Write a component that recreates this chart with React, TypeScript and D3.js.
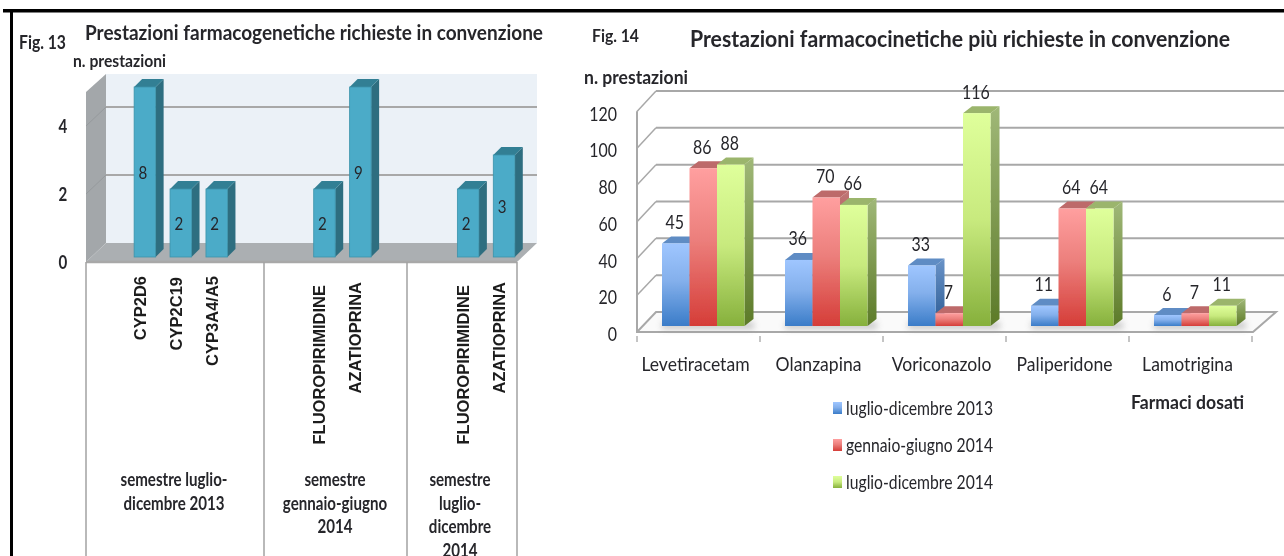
import React from "react";
import * as d3 from "d3";

// Fig. 13 data
const geneSlots = ["a0","CYP2D6","CYP2C19","CYP3A4/A5","a4","b0","FLUOROPIRIMIDINE b","AZATIOPRINA b","b3","c0","FLUOROPIRIMIDINE c","AZATIOPRINA c"];
const geneLabels = ["CYP2D6","CYP2C19","CYP3A4/A5","FLUOROPIRIMIDINE","AZATIOPRINA","FLUOROPIRIMIDINE","AZATIOPRINA"];
const geneKeys = ["CYP2D6","CYP2C19","CYP3A4/A5","FLUOROPIRIMIDINE b","AZATIOPRINA b","FLUOROPIRIMIDINE c","AZATIOPRINA c"];
const geneValues = [8,2,2,2,9,2,3];
const geneTicks = [0,2,4];
const geneGridTicks = [2,4];
const semesterSizes = [5,4,3];
const semesterLines = [
  ["semestre luglio-","dicembre 2013"],
  ["semestre","gennaio-giugno","2014"],
  ["semestre","luglio-","dicembre","2014"],
];

// Fig. 14 data
const drugs = ["Levetiracetam","Olanzapina","Voriconazolo","Paliperidone","Lamotrigina"];
const periods = ["luglio-dicembre 2013","gennaio-giugno 2014","luglio-dicembre 2014"];
const period2013b = [45,36,33,11,6];
const period2014a = [86,70,7,64,7];
const period2014b = [88,66,116,64,11];
const kineticTicks = [0,20,40,60,80,100,120];

const seriesValues = [period2013b, period2014a, period2014b];
const gradIds = ["gBlue","gRed","gGreen"];
const sideIds = ["sBlue","sRed","sGreen"];
const topColors = ["#5f8cc4","#bd6a6a","#9bb56c"];

const SANS = "Lato, 'Open Sans', sans-serif";
const GRID = "#a8a8a8";
const TEXT = "#26262b";

function Txt({x,y,size=16,bold=false,anchor="middle",len,sx=0.84,fill=TEXT,font=SANS,children}:any){
  const extra = len ? {textLength:len/sx,lengthAdjust:"spacingAndGlyphs"} : {};
  return <text x={0} y={0} transform={`translate(${x},${y}) scale(${sx},1)`}
    fontFamily={font} fontSize={size} fontWeight={bold?700:400} textAnchor={anchor} dominantBaseline="central" fill={fill} {...extra}>{children}</text>;
}

function Fig13(){
  const x = d3.scaleBand<string>().domain(geneSlots).range([86,517]);
  const yBar = d3.scaleLinear().domain([0,5]).range([257,87]).clamp(true);
  const yWall = d3.scaleLinear().domain([0,5]).range([243,73]);
  const ySide = d3.scaleLinear().domain([0,5]).range([262,92]);
  const dx = 8, dy = 8, w = 21.5;
  let cum = 0;
  const groups = semesterSizes.map(n => { const s = cum; cum += n; return [x.range()[0]+s*x.step(), x.range()[0]+cum*x.step()]; });
  const dividers = [groups[0][0], 264, 407, groups[2][1]];
  const labelTops = [276,277,276,285,282,285,282];
  const semCenters = [174,335,460];
  return <g>
    <Txt x={19} y={43} size={18} bold anchor="start" len={47}>Fig. 13</Txt>
    <Txt x={85} y={32} size={20} bold anchor="start" len={458}>Prestazioni farmacogenetiche richieste in convenzione</Txt>
    <Txt x={73} y={61} size={17} bold anchor="start" len={93}>n. prestazioni</Txt>
    <rect x={106} y={74} width={431} height={169} fill="#ebf1f7"/>
    <polygon points={`86,92 106,74 106,243 86,262`} fill="#a3a7aa"/>
    <polygon points={`86,262 106,243 537,243 517,262`} fill="#abafb2"/>
    {geneGridTicks.map(t=> <g key={t}>
      <line x1={106} x2={537} y1={yWall(t)} y2={yWall(t)} stroke={GRID} strokeWidth={2}/>
      <line x1={86} x2={106} y1={ySide(t)} y2={yWall(t)} stroke="#969a9d" strokeWidth={1}/>
    </g>)}
    {geneTicks.map(t=> <Txt key={t} x={63} y={ySide(t)+1} size={18} bold>{t}</Txt>)}
    {geneKeys.map((k,i)=>{
      const xl = x(k)! + x.bandwidth()/2 + 5 - w/2;
      const top = yBar(geneValues[i]), bot = yBar(0);
      return <g key={k}>
        <polygon points={`${xl+w},${top} ${xl+w+dx},${top-dy} ${xl+w+dx},${bot-dy} ${xl+w},${bot}`} fill="#2f6e80"/>
        <polygon points={`${xl},${top} ${xl+dx},${top-dy} ${xl+w+dx},${top-dy} ${xl+w},${top}`} fill="#327f94"/>
        <rect x={xl} y={top} width={w} height={bot-top} fill="#4babc8" stroke="#3a93ab" strokeWidth={0.8}/>
        <Txt x={xl+w/2-2} y={(top+bot)/2+1} size={18}>{geneValues[i]}</Txt>
      </g>;
    })}
    <line x1={86} x2={517} y1={262} y2={262} stroke={GRID} strokeWidth={2.5}/>
    {dividers.map((d,i)=> <line key={i} x1={d} x2={d} y1={262} y2={556} stroke="#a2a2a2" strokeWidth={1.5}/>)}
    {geneKeys.map((k,i)=>
      <g key={k} transform={`translate(${x(k)!+x.bandwidth()/2},${labelTops[i]}) rotate(-90)`}>
        <text textAnchor="end" dominantBaseline="central" fontSize={16.5} fontWeight={700} fontFamily="'Liberation Sans', sans-serif" fill="#1c1c1c">{geneLabels[i]}</text>
      </g>)}
    {semesterLines.map((lines,g)=> lines.map((l,j)=>
      <Txt key={l+g} x={semCenters[g]} y={480+j*23.4} size={18} bold>{l}</Txt>))}
  </g>;
}

function Fig14(){
  const x0 = d3.scaleBand<string>().domain(drugs).range([637,1252]);
  const x1 = d3.scaleBand<number>().domain([0,1,2]).range([25,107.5]);
  const yBar = d3.scaleLinear().domain([0,120]).range([326,105.8]);
  const yWall = d3.scaleLinear().domain([0,120]).range([312,91]);
  const ySide = d3.scaleLinear().domain([0,120]).range([332,111.5]);
  const dx = 9, dy = 7;
  return <g>
    <Txt x={592} y={36} size={17} bold anchor="start" len={47}>Fig. 14</Txt>
    <Txt x={690} y={38} size={23} bold anchor="start" len={540}>Prestazioni farmacocinetiche più richieste in convenzione</Txt>
    <Txt x={584} y={77} size={19} bold anchor="start" len={104}>n. prestazioni</Txt>
    {kineticTicks.filter(t=>t>0).map(t=> <g key={t}>
      <line x1={656} x2={1284} y1={yWall(t)} y2={yWall(t)} stroke={GRID} strokeWidth={2}/>
      <line x1={637} x2={656} y1={ySide(t)} y2={yWall(t)} stroke={GRID} strokeWidth={1.5}/>
    </g>)}
    <polyline points={`637,111.5 637,332 1253,332 1276,312 656,312 637,332`} fill="#fafafa" stroke={GRID} strokeWidth={2}/>
    <line x1={637} x2={637} y1={111.5} y2={332} stroke={GRID} strokeWidth={2}/>
    {kineticTicks.map(t=> <Txt key={t} x={617} y={ySide(t)+2} size={19} anchor="end">{t}</Txt>)}
    {x0.domain().concat(["end"]).map((d,i)=>{ const xx = 637+i*x0.step(); return <line key={d} x1={xx} x2={xx} y1={336} y2={342} stroke="#8a8a8a" strokeWidth={1}/>; })}
    {drugs.map((d)=>(
      <rect key={d} x={x0(d)!+25} y={322} width={92} height={7} fill="#8a8a8a" opacity={0.45} filter="url(#soft)"/>
    ))}
    {drugs.map((d,di)=> seriesValues.map((vals,si)=>{
      const xl = x0(d)! + x1(si)!, w = x1.bandwidth();
      const top = yBar(vals[di]), bot = yBar(0);
      return <g key={d+si}>
        <polygon points={`${xl+w},${top} ${xl+w+dx},${top-dy} ${xl+w+dx},${bot-dy} ${xl+w},${bot}`} fill={`url(#${sideIds[si]})`}/>
        <polygon points={`${xl},${top} ${xl+dx},${top-dy} ${xl+w+dx},${top-dy} ${xl+w},${top}`} fill={topColors[si]}/>
        <rect x={xl} y={top} width={w} height={bot-top} fill={`url(#${gradIds[si]})`}/>
      </g>;
    }))}
    {drugs.map((d,di)=> seriesValues.map((vals,si)=>
      <Txt key={d+si} x={x0(d)!+x1(si)!+x1.bandwidth()/2-1} y={yBar(vals[di])-21.5} size={19}>{vals[di]}</Txt>))}
    {drugs.map(d=> <Txt key={d} x={x0(d)!+x0.step()/2-3} y={364} size={18.5} sx={0.95}>{d}</Txt>)}
    {periods.map((p,i)=> <g key={p}>
      <rect x={833} y={402+i*37} width={9} height={12} fill={`url(#${gradIds[i]})`}/>
      <Txt x={846} y={408+i*37} size={18.5} anchor="start" len={147}>{p}</Txt>
    </g>)}
    <Txt x={1131} y={403} size={18} bold anchor="start" len={113}>Farmaci dosati</Txt>
  </g>;
}

export default function App(){
  return <svg width={1284} height={556} viewBox="0 0 1284 556" style={{position:"absolute",left:0,top:0,background:"#fff"}}>
    <defs>
      <linearGradient id="gBlue" x1="0" y1="0" x2="0" y2="1"><stop offset="0" stopColor="#9fc6ff"/><stop offset="0.45" stopColor="#84b0ec"/><stop offset="1" stopColor="#3a7cc8"/></linearGradient>
      <linearGradient id="gRed" x1="0" y1="0" x2="0" y2="1"><stop offset="0" stopColor="#ff9f9f"/><stop offset="0.45" stopColor="#ec7f7c"/><stop offset="1" stopColor="#d53d38"/></linearGradient>
      <linearGradient id="gGreen" x1="0" y1="0" x2="0" y2="1"><stop offset="0" stopColor="#dfff9b"/><stop offset="0.5" stopColor="#c8ea7e"/><stop offset="1" stopColor="#86b03c"/></linearGradient>
      <linearGradient id="sBlue" x1="0" y1="0" x2="0" y2="1"><stop offset="0" stopColor="#6a93c8"/><stop offset="1" stopColor="#2b5b93"/></linearGradient>
      <linearGradient id="sRed" x1="0" y1="0" x2="0" y2="1"><stop offset="0" stopColor="#c07676"/><stop offset="1" stopColor="#972a28"/></linearGradient>
      <linearGradient id="sGreen" x1="0" y1="0" x2="0" y2="1"><stop offset="0" stopColor="#a0b878"/><stop offset="1" stopColor="#5c7a28"/></linearGradient>
      <filter id="soft" x="-20%" y="-100%" width="140%" height="300%"><feGaussianBlur stdDeviation="3"/></filter>
      <filter id="scan" filterUnits="userSpaceOnUse" x="0" y="0" width="1284" height="556"><feGaussianBlur stdDeviation="0.5"/></filter>
    </defs>
    <g filter="url(#scan)">
      <Fig13/>
      <Fig14/>
      <rect x={3} y={9} width={1281} height={3.5} fill="#000"/>
      <rect x={10} y={9} width={3} height={547} fill="#000"/>
    </g>
  </svg>;
}
